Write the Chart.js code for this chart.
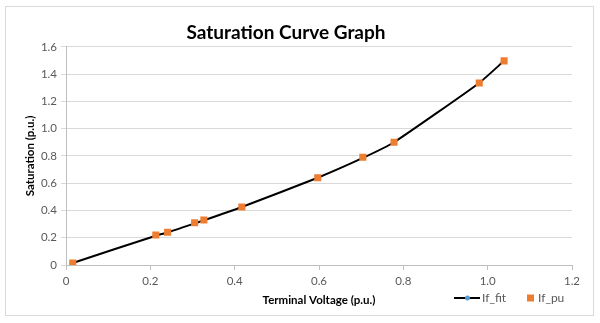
<!DOCTYPE html>
<html>
<head>
<meta charset="utf-8">
<script src="https://cdn.jsdelivr.net/npm/chart.js@4"></script>
<style>
  body { margin: 0; background: #fff; }
  #wrap { position: relative; width: 600px; height: 323px; }
</style>
</head>
<body>
<div id="wrap"><canvas id="chart" width="600" height="323"></canvas></div>
<script>
// terminal voltage (p.u.) for each measured point
const voltage = [0.016, 0.213, 0.241, 0.305, 0.327, 0.417, 0.597, 0.704, 0.778, 0.98, 1.039];
// measured saturation If_pu
const satMeasured = [0.015, 0.22, 0.24, 0.31, 0.33, 0.425, 0.64, 0.79, 0.90, 1.335, 1.497];
// fitted curve If_fit
const satFit = [0.015, 0.215, 0.238, 0.305, 0.327, 0.425, 0.64, 0.785, 0.90, 1.335, 1.497];

const font = 'Lato, "Liberation Sans", sans-serif';
const grey = '#595959';
const orange = '#ed7d31';
const blue = '#5b9bd5';

const toPoints = (ys) => voltage.map((x, i) => ({ x: x, y: ys[i] }));

// outer frame + legend that shares the row with the x axis title
const decor = {
  id: 'decor',
  beforeDraw(chart) {
    const ctx = chart.ctx;
    ctx.save();
    ctx.strokeStyle = '#d9d9d9';
    ctx.lineWidth = 1;
    ctx.strokeRect(5.5, 6.5, 588, 309);
    ctx.restore();
  },
  afterDraw(chart) {
    const ctx = chart.ctx;
    const y = 298;
    ctx.save();
    ctx.strokeStyle = '#000';
    ctx.lineWidth = 2;
    ctx.beginPath();
    ctx.moveTo(454, y);
    ctx.lineTo(480, y);
    ctx.stroke();
    ctx.fillStyle = blue;
    ctx.beginPath();
    ctx.arc(467.5, y, 2.5, 0, Math.PI * 2);
    ctx.fill();
    ctx.fillStyle = orange;
    ctx.fillRect(527, y - 3.5, 7, 7);
    ctx.fillStyle = grey;
    ctx.font = '12px ' + font;
    ctx.textBaseline = 'middle';
    ctx.fillText(chart.data.datasets[0].label, 482, y);
    ctx.fillText(chart.data.datasets[1].label, 538, y);
    ctx.restore();
  }
};

new Chart(document.getElementById('chart'), {
  type: 'scatter',
  data: {
    datasets: [
      {
        label: 'If_fit',
        data: toPoints(satFit),
        showLine: true,
        borderColor: '#000',
        borderWidth: 2,
        tension: 0.15,
        pointRadius: 0,
        order: 2
      },
      {
        label: 'If_pu',
        data: toPoints(satMeasured),
        pointStyle: 'rect',
        pointRadius: 5,
        backgroundColor: orange,
        borderColor: orange,
        borderWidth: 0,
        order: 1
      }
    ]
  },
  plugins: [decor],
  options: {
    responsive: false,
    animation: false,
    layout: { padding: { left: 0, right: 28, top: 0, bottom: 0 } },
    plugins: {
      legend: { display: false },
      tooltip: { enabled: false },
      title: {
        display: true,
        text: 'Saturation Curve Graph',
        color: '#000',
        font: { family: font, size: 19, weight: 'bold' },
        padding: { top: 21, bottom: 3 }
      }
    },
    scales: {
      x: {
        type: 'linear',
        min: 0,
        max: 1.2,
        afterFit: (s) => { s.height = 58; },
        ticks: { stepSize: 0.2, color: grey, font: { family: font, size: 11.5 }, padding: 4 },
        grid: { drawOnChartArea: false, tickLength: 5, color: '#bfbfbf' },
        border: { color: '#bfbfbf' },
        title: {
          display: true,
          text: 'Terminal Voltage (p.u.)',
          color: '#000',
          font: { family: font, size: 11.5, weight: 'bold' },
          padding: { top: 0, bottom: 16 }
        }
      },
      y: {
        min: 0,
        max: 1.6,
        afterFit: (s) => { s.width = 66; },
        ticks: { stepSize: 0.2, color: grey, font: { family: font, size: 11.5 }, padding: 4 },
        grid: { color: '#d9d9d9', tickLength: 5 },
        border: { color: '#bfbfbf' },
        title: {
          display: true,
          text: 'Saturation (p.u.)',
          color: '#000',
          font: { family: font, size: 11.5, weight: 'bold' },
          padding: { top: 23, bottom: 0 }
        }
      }
    }
  }
});
</script>
</body>
</html>
